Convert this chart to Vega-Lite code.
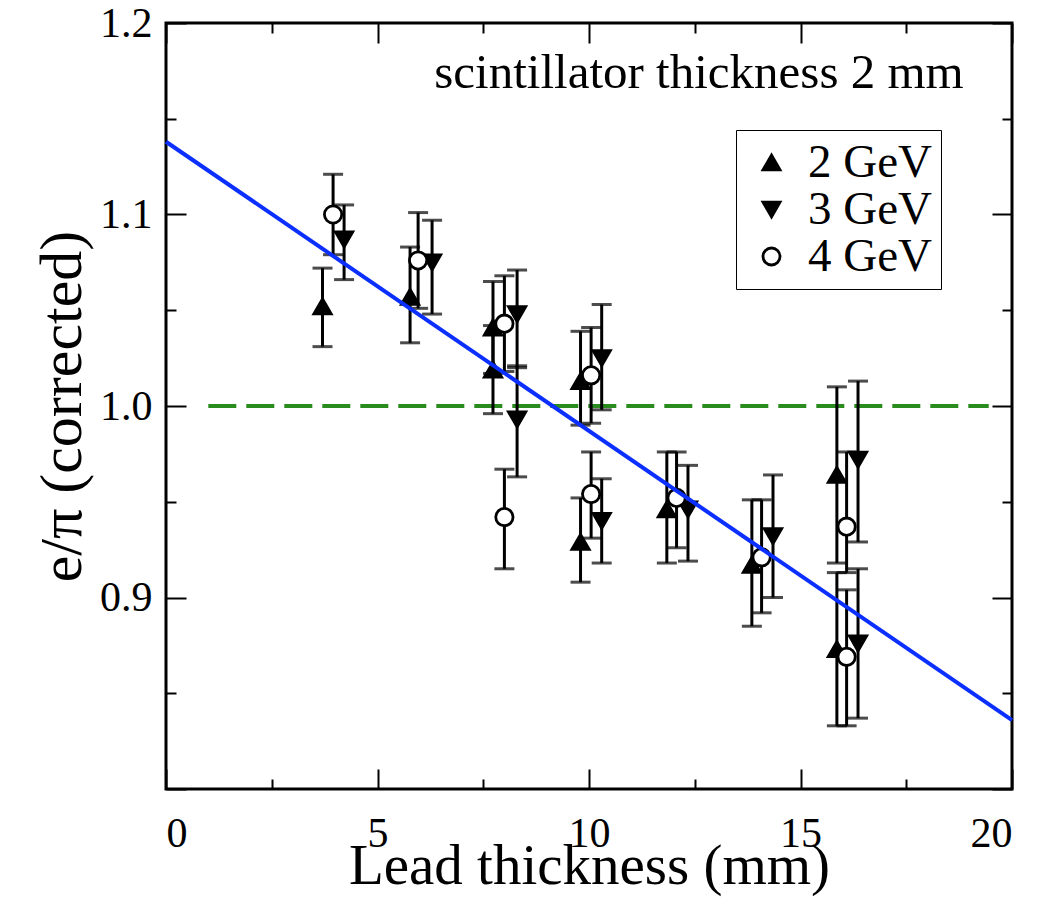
{
  "$schema": "https://vega.github.io/schema/vega-lite/v6.json",
  "autosize": "none",
  "width": 846,
  "height": 766,
  "padding": {"left": 166, "top": 23, "right": 30, "bottom": 114},
  "background": "white",
  "config": {
    "view": {"stroke": "black", "strokeWidth": 3},
    "font": "Liberation Serif",
    "axis": {"grid": false, "domain": false, "labelFont": "Liberation Serif", "titleFont": "Liberation Serif", "labelColor": "black", "titleColor": "black", "tickColor": "black", "titleFontWeight": "normal"}
  },
  "datasets": {
    "pts": [
      {"e": "2 GeV", "x": 3.7, "y": 1.052, "lo": 1.031, "hi": 1.072},
      {"e": "2 GeV", "x": 5.77, "y": 1.057, "lo": 1.033, "hi": 1.083},
      {"e": "2 GeV", "x": 7.73, "y": 1.041, "lo": 1.017, "hi": 1.065},
      {"e": "2 GeV", "x": 7.73, "y": 1.019, "lo": 0.996, "hi": 1.042},
      {"e": "2 GeV", "x": 9.8, "y": 1.013, "lo": 0.99, "hi": 1.039},
      {"e": "2 GeV", "x": 9.8, "y": 0.929, "lo": 0.908, "hi": 0.952},
      {"e": "2 GeV", "x": 11.84, "y": 0.946, "lo": 0.918, "hi": 0.976},
      {"e": "2 GeV", "x": 13.85, "y": 0.917, "lo": 0.885, "hi": 0.951},
      {"e": "2 GeV", "x": 15.86, "y": 0.964, "lo": 0.918, "hi": 1.01},
      {"e": "2 GeV", "x": 15.86, "y": 0.873, "lo": 0.833, "hi": 0.913},
      {"e": "3 GeV", "x": 4.21, "y": 1.087, "lo": 1.066, "hi": 1.105},
      {"e": "3 GeV", "x": 6.29, "y": 1.075, "lo": 1.048, "hi": 1.097},
      {"e": "3 GeV", "x": 8.3, "y": 1.048, "lo": 1.02, "hi": 1.071},
      {"e": "3 GeV", "x": 8.3, "y": 0.993, "lo": 0.963, "hi": 1.021},
      {"e": "3 GeV", "x": 10.3, "y": 1.025, "lo": 0.998, "hi": 1.053},
      {"e": "3 GeV", "x": 10.3, "y": 0.94, "lo": 0.918, "hi": 0.962},
      {"e": "3 GeV", "x": 12.34, "y": 0.946, "lo": 0.919, "hi": 0.969},
      {"e": "3 GeV", "x": 14.35, "y": 0.932, "lo": 0.9, "hi": 0.964},
      {"e": "3 GeV", "x": 16.36, "y": 0.972, "lo": 0.929, "hi": 1.013},
      {"e": "3 GeV", "x": 16.36, "y": 0.876, "lo": 0.837, "hi": 0.915},
      {"e": "4 GeV", "x": 3.95, "y": 1.1, "lo": 1.079, "hi": 1.121},
      {"e": "4 GeV", "x": 5.96, "y": 1.076, "lo": 1.051, "hi": 1.101},
      {"e": "4 GeV", "x": 8.0, "y": 1.043, "lo": 1.018, "hi": 1.068},
      {"e": "4 GeV", "x": 8.0, "y": 0.942, "lo": 0.915, "hi": 0.967},
      {"e": "4 GeV", "x": 10.05, "y": 1.016, "lo": 0.991, "hi": 1.041},
      {"e": "4 GeV", "x": 10.05, "y": 0.954, "lo": 0.931, "hi": 0.976},
      {"e": "4 GeV", "x": 12.07, "y": 0.952, "lo": 0.926, "hi": 0.976},
      {"e": "4 GeV", "x": 14.08, "y": 0.921, "lo": 0.892, "hi": 0.951},
      {"e": "4 GeV", "x": 16.09, "y": 0.937, "lo": 0.913, "hi": 0.976},
      {"e": "4 GeV", "x": 16.09, "y": 0.869, "lo": 0.833, "hi": 0.904}
    ],
    "fit": [{"x": 0, "y": 1.138}, {"x": 20, "y": 0.836}],
    "unity": [{"x": 1.0, "y": 1.0}, {"x": 19.45, "y": 1.0}],
    "note": [{"x": 12.6, "y": 1.174, "t": "scintillator thickness 2 mm"}]
  },
  "resolve": {"axis": {"x": "independent", "y": "independent"}},
  "layer": [
    {
      "data": {"name": "unity"},
      "mark": {"type": "line", "color": "#2a8c1f", "strokeWidth": 4, "strokeDash": [28, 10]},
      "encoding": {
        "x": {"field": "x", "type": "quantitative", "scale": {"domain": [0, 20], "nice": false, "zero": false}, "axis": null},
        "y": {"field": "y", "type": "quantitative", "scale": {"domain": [0.8, 1.2], "nice": false, "zero": false}, "axis": null}
      }
    },
    {
      "data": {"name": "pts"},
      "mark": {"type": "rule", "color": "black", "strokeWidth": 3},
      "encoding": {
        "x": {"field": "x", "type": "quantitative", "scale": {"domain": [0, 20], "nice": false, "zero": false},
          "axis": {"orient": "bottom", "values": [0, 2.5, 5, 7.5, 10, 12.5, 15, 17.5, 20],
            "labelExpr": "datum.value % 5 === 0 ? datum.label : ''",
            "tickSize": {"condition": {"test": "datum.value % 5 === 0", "value": -20}, "value": -10},
            "tickWidth": 2, "labelFont": "Liberation Serif", "labelFontSize": 42, "labelPadding": 44,
            "title": "Lead thickness (mm)", "titleFont": "Liberation Serif", "titleFontSize": 57, "titlePadding": -16}},
        "y": {"field": "lo", "type": "quantitative", "scale": {"domain": [0.8, 1.2], "nice": false, "zero": false},
          "axis": {"orient": "left", "values": [0.8, 0.85, 0.9, 0.95, 1.0, 1.05, 1.1, 1.15, 1.2],
            "labelExpr": "datum.value > 0.85 && round(datum.value*100) % 10 === 0 ? format(datum.value, '.1f') : ''",
            "tickSize": {"condition": {"test": "round(datum.value*100) % 10 === 0", "value": -20}, "value": -10},
            "tickWidth": 2, "labelFont": "Liberation Serif", "labelFontSize": 42, "labelPadding": 34,
            "title": "e/π  (corrected)", "titleFont": "Liberation Serif", "titleFontSize": 60, "titlePadding": 6}},
        "y2": {"field": "hi"}
      }
    },
    {
      "data": {"name": "pts"},
      "mark": {"type": "tick", "orient": "horizontal", "color": "black", "size": 20, "thickness": 3},
      "encoding": {
        "x": {"field": "x", "type": "quantitative", "scale": {"domain": [0, 20], "nice": false, "zero": false},
          "axis": {"orient": "top", "values": [0, 2.5, 5, 7.5, 10, 12.5, 15, 17.5, 20], "labels": false, "title": null,
            "tickSize": {"condition": {"test": "datum.value % 5 === 0", "value": -20}, "value": -10}, "tickWidth": 2}},
        "y": {"field": "lo", "type": "quantitative", "scale": {"domain": [0.8, 1.2], "nice": false, "zero": false},
          "axis": {"orient": "right", "values": [0.8, 0.85, 0.9, 0.95, 1.0, 1.05, 1.1, 1.15, 1.2], "labels": false, "title": null,
            "tickSize": {"condition": {"test": "round(datum.value*100) % 10 === 0", "value": -20}, "value": -10}, "tickWidth": 2}}
      }
    },
    {
      "data": {"name": "pts"},
      "mark": {"type": "tick", "orient": "horizontal", "color": "black", "size": 20, "thickness": 3},
      "encoding": {
        "x": {"field": "x", "type": "quantitative", "scale": {"domain": [0, 20], "nice": false, "zero": false}, "axis": null},
        "y": {"field": "hi", "type": "quantitative", "scale": {"domain": [0.8, 1.2], "nice": false, "zero": false}, "axis": null}
      }
    },
    {
      "data": {"name": "pts"},
      "mark": {"type": "point", "filled": false, "opacity": 1, "strokeWidth": 2.8, "size": 300},
      "encoding": {
        "x": {"field": "x", "type": "quantitative", "scale": {"domain": [0, 20], "nice": false, "zero": false}, "axis": null},
        "y": {"field": "y", "type": "quantitative", "scale": {"domain": [0.8, 1.2], "nice": false, "zero": false}, "axis": null},
        "shape": {"field": "e", "type": "nominal", "scale": {"domain": ["2 GeV", "3 GeV", "4 GeV"], "range": ["triangle-up", "triangle-down", "circle"]},
          "legend": {"title": null, "orient": "none", "legendX": 570, "legendY": 107, "strokeColor": "black", "padding": 9,
            "labelFont": "Liberation Serif", "labelFontSize": 47, "labelColor": "black", "symbolSize": 290, "symbolStrokeWidth": 2.8, "symbolStrokeColor": "black",
            "symbolOffset": 3, "labelOffset": 13, "rowPadding": -2.5, "fillColor": "white"}},
        "fill": {"field": "e", "type": "nominal", "scale": {"domain": ["2 GeV", "3 GeV", "4 GeV"], "range": ["black", "black", "white"]}},
        "stroke": {"field": "e", "type": "nominal", "scale": {"domain": ["2 GeV", "3 GeV", "4 GeV"], "range": ["black", "black", "black"]}}
      }
    },
    {
      "data": {"name": "fit"},
      "mark": {"type": "line", "color": "#0a2fff", "strokeWidth": 4},
      "encoding": {
        "x": {"field": "x", "type": "quantitative", "scale": {"domain": [0, 20], "nice": false, "zero": false}, "axis": null},
        "y": {"field": "y", "type": "quantitative", "scale": {"domain": [0.8, 1.2], "nice": false, "zero": false}, "axis": null}
      }
    },
    {
      "data": {"name": "note"},
      "mark": {"type": "text", "font": "Liberation Serif", "fontSize": 49, "color": "black", "align": "center", "baseline": "middle"},
      "encoding": {
        "x": {"field": "x", "type": "quantitative", "scale": {"domain": [0, 20], "nice": false, "zero": false}, "axis": null},
        "y": {"field": "y", "type": "quantitative", "scale": {"domain": [0.8, 1.2], "nice": false, "zero": false}, "axis": null},
        "text": {"field": "t"}
      }
    }
  ]
}
